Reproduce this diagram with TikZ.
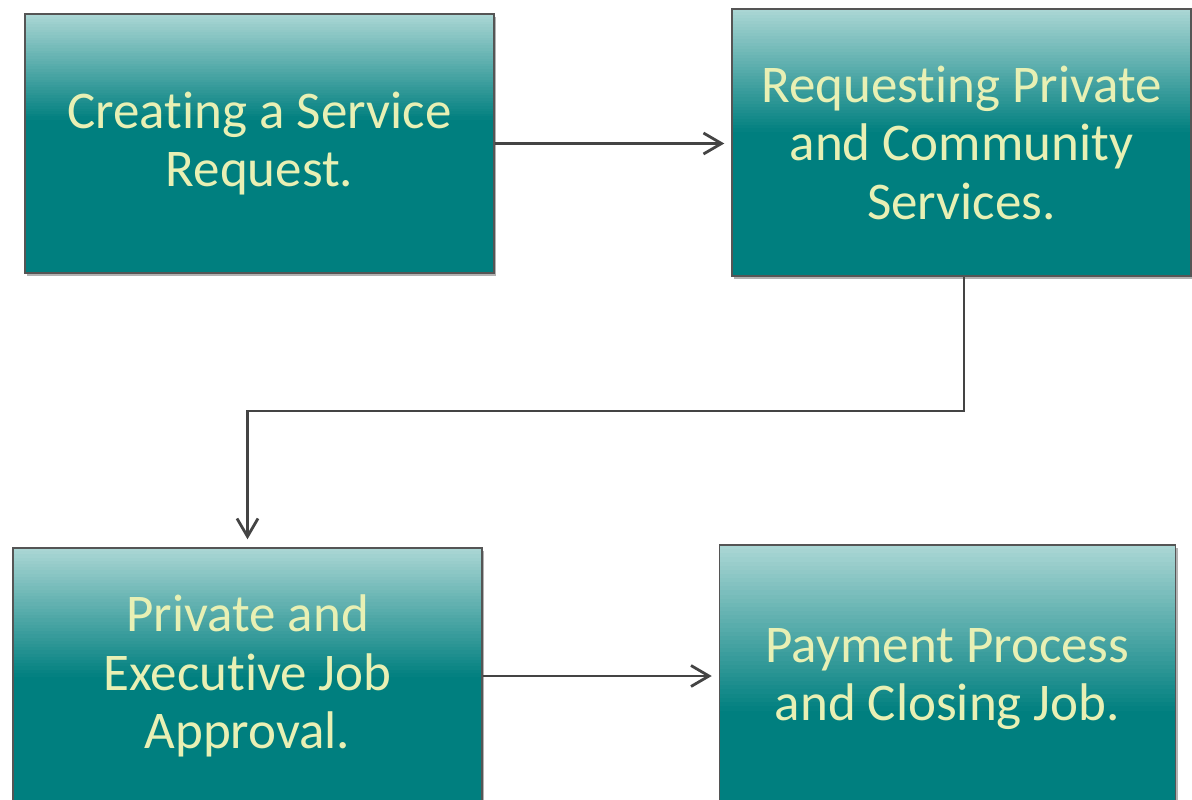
\documentclass[tikz,border=0pt]{standalone}
\usepackage{fontspec}
\setmainfont{Carlito}[Ligatures=NoCommon]
\usetikzlibrary{arrows.meta,shadows}

\definecolor{tealdark}{RGB}{0,127,127}
\definecolor{teallight}{RGB}{170,214,212}
\definecolor{boxedge}{RGB}{85,85,85}
\definecolor{boxtext}{RGB}{232,240,180}
\definecolor{linkcol}{RGB}{68,68,68}

\tikzset{
  stage/.style={
    rectangle, draw=boxedge, line width=1.5pt, fill=tealdark,
    text=boxtext, align=center, inner sep=0pt,
    font=\fontsize{53}{58.5}\selectfont,
    drop shadow={shadow xshift=2pt, shadow yshift=-3pt, opacity=0.3, fill=black},
    % light band at the top, blended into the dark fill in thin strips
    path picture={
      \foreach \i in {0,...,39} {
        \pgfmathsetmacro{\mixp}{\i*2.5}
        \pgfmathsetmacro{\ya}{\i*#1/40}
        \pgfmathsetmacro{\yb}{(\i+1)*#1/40+0.6}
        \fill[tealdark!\mixp!teallight]
          ([yshift=-\ya pt]path picture bounding box.north west)
          rectangle ([yshift=-\yb pt]path picture bounding box.north east);
      }
    }
  },
  link/.style={
    draw=linkcol, line width=2.8pt,
    -{Straight Barb[length=18pt,width=21pt]}
  }
}

\begin{document}
\begin{tikzpicture}[x=1pt,y=-1pt]
  \useasboundingbox (0,0) rectangle (1192,800);

  % process stages
  \node[stage=105, minimum width=469pt, minimum height=259pt]
    (create) at (259.5,143.5) {Creating a Service\\Request.};
  \node[stage=122, minimum width=459pt, minimum height=267pt]
    (request) at (961.5,142.5) {Requesting Private\\and Community\\Services.};
  \node[stage=128, minimum width=469pt, minimum height=256pt]
    (approve) at (247.5,676) {Private and\\Executive Job\\Approval.};
  \node[stage=165, minimum width=456pt, minimum height=268pt]
    (payment) at (947.5,679) {Payment Process\\and Closing Job.};

  % bend point of the connector between the two rows
  \coordinate (bend) at (964,411);

  % connectors
  \draw[link, shorten >=7pt] (create.east) -- (create.east -| request.west);
  \draw[link, shorten >=8pt]
    (request.south -| bend) -- (bend) -| (approve.north);
  \draw[link, shorten >=7pt] (approve.east) -- (approve.east -| payment.west);
\end{tikzpicture}
\end{document}
